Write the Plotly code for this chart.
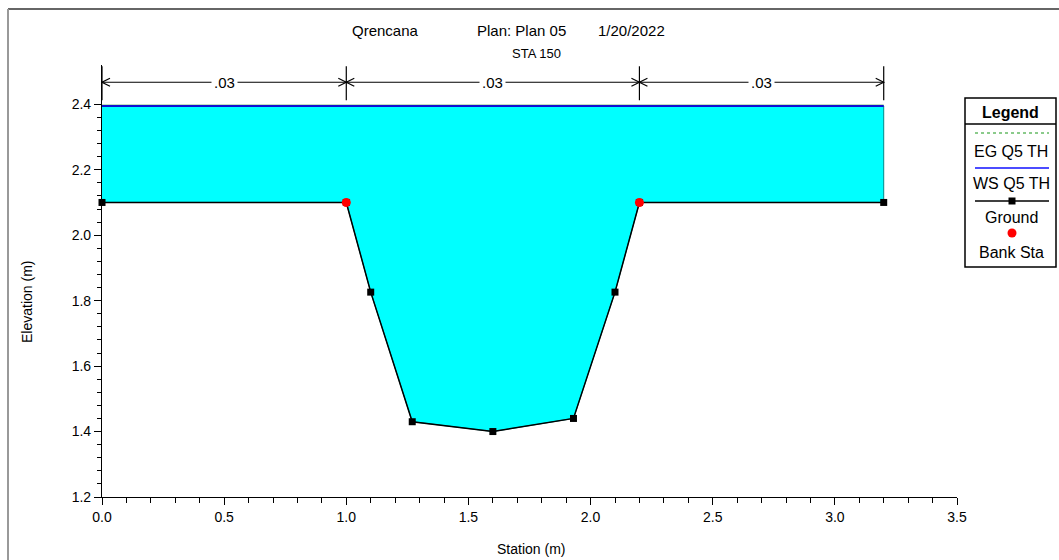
import plotly.graph_objects as go

# ---------------- data ----------------
ground_sta = [0.0, 1.0, 1.1, 1.27, 1.6, 1.93, 2.1, 2.2, 3.2]
ground_elev = [2.10, 2.10, 1.826, 1.43, 1.40, 1.44, 1.826, 2.10, 2.10]
bank_sta = [1.0, 2.2]
bank_elev = [2.10, 2.10]
ws_sta = [0.0, 3.2]
ws_elev = [2.395, 2.395]
eg_elev = [2.397, 2.397]
n_bounds = [0.0, 1.0, 2.2, 3.2]
n_values = [".03", ".03", ".03"]
x_ticks = [0.0, 0.5, 1.0, 1.5, 2.0, 2.5, 3.0, 3.5]
y_ticks = [1.2, 1.4, 1.6, 1.8, 2.0, 2.2, 2.4]
legend_names = ["EG Q5 TH", "WS Q5 TH", "Ground", "Bank Sta"]

W, H = 1059, 560
L, R, T, B = 102, 957, 65, 497
XR = [0.0, 3.5]
YR = [1.2, 2.52]


def px(xp):
    return (xp - L) / (R - L)


def py(yp):
    return (B - yp) / (B - T)


def dx(pix):
    return pix * (XR[1] - XR[0]) / (R - L)


def dy(pix):
    return pix * (YR[1] - YR[0]) / (B - T)


FONT = "Liberation Sans, Arial, sans-serif"
fig = go.Figure()

# water fill
poly_x = ws_sta + ground_sta[::-1]
poly_y = ws_elev + ground_elev[::-1]
fig.add_trace(go.Scatter(x=poly_x, y=poly_y, fill="toself", fillcolor="#00ffff",
                         line=dict(color="#008888", width=1), mode="lines",
                         hoverinfo="skip", showlegend=False))
fig.add_trace(go.Scatter(x=ws_sta, y=eg_elev, mode="lines",
                         line=dict(color="#80c080", width=1.5), name=legend_names[0],
                         showlegend=False))
fig.add_trace(go.Scatter(x=ws_sta, y=ws_elev, mode="lines",
                         line=dict(color="#1010d0", width=2), name=legend_names[1],
                         showlegend=False))
fig.add_trace(go.Scatter(x=ground_sta, y=ground_elev, mode="lines+markers",
                         line=dict(color="black", width=1.5),
                         marker=dict(symbol="square", size=7, color="black"),
                         cliponaxis=False, name=legend_names[2], showlegend=False))
fig.add_trace(go.Scatter(x=bank_sta, y=bank_elev, mode="markers",
                         marker=dict(symbol="circle", size=9, color="#ff0000"),
                         cliponaxis=False, name=legend_names[3], showlegend=False))

shapes = []
annotations = []


def txt_ann(text, xp, yp, size, **kw):
    d = dict(x=px(xp), y=py(yp), xref="paper", yref="paper", text=text,
             showarrow=False, xanchor="center", yanchor="middle",
             font=dict(family=FONT, size=size, color="black"))
    d.update(kw)
    annotations.append(d)


# Manning's n markers
y_arrow = 2.4 + dy(104 - 82)
y_top = 2.4 + dy(104 - 66)
y_bot = 2.4 + dy(104 - 100)
for b in n_bounds:
    shapes.append(dict(type="line", xref="x", yref="y", x0=b, x1=b, y0=y_bot, y1=y_top,
                       line=dict(color="black", width=1.2)))
ah_l, ah_h = dx(8), dy(4)
for i in range(len(n_values)):
    a, b = n_bounds[i], n_bounds[i + 1]
    shapes.append(dict(type="line", xref="x", yref="y", x0=a, x1=b, y0=y_arrow, y1=y_arrow,
                       line=dict(color="black", width=1.2)))
    shapes.append(dict(type="path", xref="x", yref="y",
                       path=f"M {a+ah_l},{y_arrow+ah_h} L {a},{y_arrow} L {a+ah_l},{y_arrow-ah_h}",
                       line=dict(color="black", width=1.2)))
    shapes.append(dict(type="path", xref="x", yref="y",
                       path=f"M {b-ah_l},{y_arrow+ah_h} L {b},{y_arrow} L {b-ah_l},{y_arrow-ah_h}",
                       line=dict(color="black", width=1.2)))
    annotations.append(dict(x=(a + b) / 2, y=y_arrow, xref="x", yref="y", text=n_values[i],
                            showarrow=False, bgcolor="white", borderpad=2,
                            xanchor="center", yanchor="middle",
                            font=dict(family=FONT, size=15, color="black")))

# titles
for t, xp in [("Qrencana", 385), ("Plan: Plan 05", 521), ("1/20/2022", 631)]:
    txt_ann(t, xp, 31, 15)
txt_ann("STA 150", 536, 53, 13)
txt_ann("Station (m)", 531, 549, 14)
txt_ann("Elevation (m)", 27, 302, 14, textangle=-90)

# outer frame
shapes.append(dict(type="line", xref="paper", yref="paper", x0=px(8), x1=px(1070),
                   y0=py(9), y1=py(9), line=dict(color="#333333", width=1.5)))
shapes.append(dict(type="line", xref="paper", yref="paper", x0=px(8), x1=px(8),
                   y0=py(9), y1=py(570), line=dict(color="#999999", width=2)))

# legend box
lx0, lx1 = 965, 1056
shapes.append(dict(type="rect", xref="paper", yref="paper", x0=px(lx0), x1=px(lx1),
                   y0=py(267), y1=py(98), line=dict(color="black", width=1.5),
                   fillcolor="white"))
shapes.append(dict(type="line", xref="paper", yref="paper", x0=px(lx0), x1=px(lx1),
                   y0=py(124), y1=py(124), line=dict(color="black", width=1.5)))
cx = (lx0 + lx1) / 2
txt_ann("<b>Legend</b>", cx, 112, 16)
sx0, sx1 = 975, 1049
shapes.append(dict(type="line", xref="paper", yref="paper", x0=px(sx0), x1=px(sx1),
                   y0=py(133), y1=py(133), line=dict(color="#66bb66", width=1.5, dash="dot")))
shapes.append(dict(type="line", xref="paper", yref="paper", x0=px(sx0), x1=px(sx1),
                   y0=py(168), y1=py(168), line=dict(color="#1010ff", width=1.5)))
shapes.append(dict(type="line", xref="paper", yref="paper", x0=px(sx0), x1=px(sx1),
                   y0=py(201), y1=py(201), line=dict(color="black", width=1.5)))
shapes.append(dict(type="rect", xref="paper", yref="paper", x0=px(cx - 2), x1=px(cx + 5),
                   y0=py(204.5), y1=py(197.5), line=dict(width=0), fillcolor="black"))
shapes.append(dict(type="circle", xref="paper", yref="paper", x0=px(cx - 3), x1=px(cx + 6),
                   y0=py(237.5), y1=py(228.5), line=dict(width=0), fillcolor="#ff0000"))
for t, yp in zip(legend_names, [152, 184, 217, 252]):
    txt_ann(t, cx + 1, yp, 16)

x_minor = [round(0.1 * i, 2) for i in range(36)]
y_minor = [round(1.2 + 0.04 * i, 2) for i in range(31)]

fig.update_layout(
    width=W, height=H,
    margin=dict(l=L, r=W - R, t=T, b=H - B, pad=0),
    paper_bgcolor="white", plot_bgcolor="white",
    shapes=shapes, annotations=annotations,
    showlegend=False,
    font=dict(family=FONT, size=14, color="black"),
    xaxis=dict(range=XR, tickmode="array", tickvals=x_ticks,
               ticktext=[f"{v:.1f}" for v in x_ticks],
               ticks="outside", ticklen=7, tickwidth=1, tickcolor="black",
               showline=True, linecolor="black", linewidth=1.2, showgrid=False,
               zeroline=False, tickfont=dict(family=FONT, size=14),
               minor=dict(tickmode="array", tickvals=x_minor, ticks="outside",
                          ticklen=5, tickcolor="black", showgrid=False)),
    yaxis=dict(range=YR, tickmode="array", tickvals=y_ticks,
               ticktext=[f"{v:.1f}" for v in y_ticks],
               ticks="outside", ticklen=7, tickwidth=1, tickcolor="black",
               showline=True, linecolor="black", linewidth=1.2, showgrid=False,
               zeroline=False, tickfont=dict(family=FONT, size=14),
               minor=dict(tickmode="array", tickvals=y_minor, ticks="outside",
                          ticklen=4, tickcolor="black", showgrid=False)),
)

fig.write_html("out.html", config={"displayModeBar": False},
               post_script="document.body.style.margin='0';")
